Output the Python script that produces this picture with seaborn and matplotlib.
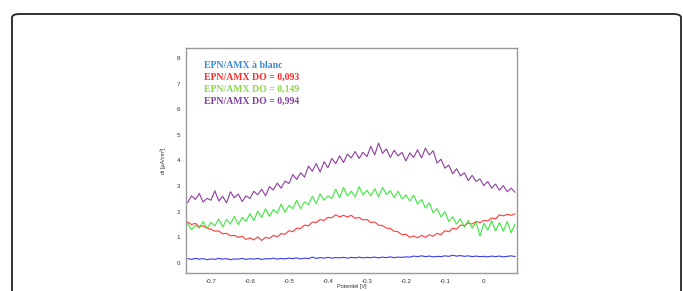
import numpy as np
import pandas as pd
import matplotlib
matplotlib.use("Agg")
import matplotlib.pyplot as plt
import seaborn as sns
from matplotlib.patches import FancyBboxPatch

# potential grid (V)
potential = [-0.76, -0.75, -0.74, -0.73, -0.72, -0.71, -0.70, -0.69, -0.68, -0.67,
             -0.66, -0.65, -0.64, -0.63, -0.62, -0.61, -0.60, -0.59, -0.58, -0.57,
             -0.56, -0.55, -0.54, -0.53, -0.52, -0.51, -0.50, -0.49, -0.48, -0.47,
             -0.46, -0.45, -0.44, -0.43, -0.42, -0.41, -0.40, -0.39, -0.38, -0.37,
             -0.36, -0.35, -0.34, -0.33, -0.32, -0.31, -0.30, -0.29, -0.28, -0.27,
             -0.26, -0.25, -0.24, -0.23, -0.22, -0.21, -0.20, -0.19, -0.18, -0.17,
             -0.16, -0.15, -0.14, -0.13, -0.12, -0.11, -0.10, -0.09, -0.08, -0.07,
             -0.06, -0.05, -0.04, -0.03, -0.02, -0.01, 0.00, 0.01, 0.02, 0.03,
             0.04, 0.05, 0.06, 0.07, 0.08]

blanc = [0.17, 0.14, 0.18, 0.15, 0.17, 0.13, 0.16, 0.14, 0.18, 0.15,
         0.17, 0.13, 0.16, 0.15, 0.18, 0.14, 0.17, 0.15, 0.18, 0.14,
         0.17, 0.16, 0.19, 0.15, 0.18, 0.16, 0.19, 0.17, 0.20, 0.16,
         0.19, 0.17, 0.23, 0.18, 0.21, 0.19, 0.22, 0.19, 0.21, 0.20,
         0.22, 0.19, 0.22, 0.20, 0.23, 0.20, 0.22, 0.21, 0.23, 0.20,
         0.23, 0.21, 0.24, 0.21, 0.23, 0.22, 0.24, 0.23, 0.27, 0.25,
         0.28, 0.25, 0.27, 0.24, 0.26, 0.25, 0.28, 0.26, 0.30, 0.27,
         0.29, 0.26, 0.28, 0.25, 0.27, 0.25, 0.26, 0.24, 0.27, 0.25,
         0.27, 0.24, 0.26, 0.28, 0.25]

do_093 = [1.60, 1.50, 1.55, 1.42, 1.45, 1.36, 1.32, 1.24, 1.25, 1.14,
          1.16, 1.06, 1.08, 1.00, 1.04, 0.92, 0.98, 0.90, 1.02, 0.88,
          1.00, 0.96, 1.08, 1.02, 1.15, 1.12, 1.26, 1.22, 1.36, 1.35,
          1.48, 1.45, 1.60, 1.58, 1.70, 1.66, 1.78, 1.76, 1.88, 1.80,
          1.86, 1.80, 1.86, 1.74, 1.78, 1.68, 1.70, 1.58, 1.60, 1.48,
          1.46, 1.36, 1.35, 1.24, 1.22, 1.10, 1.12, 1.00, 1.06, 0.98,
          1.08, 1.00, 1.10, 1.04, 1.16, 1.10, 1.26, 1.22, 1.36, 1.32,
          1.48, 1.46, 1.56, 1.52, 1.62, 1.58, 1.66, 1.64, 1.76, 1.72,
          1.88, 1.84, 1.90, 1.86, 1.92]

do_149 = [1.55, 1.30, 1.48, 1.36, 1.62, 1.35, 1.58, 1.45, 1.72, 1.40,
          1.70, 1.52, 1.82, 1.50, 1.78, 1.62, 1.92, 1.66, 2.02, 1.78,
          2.12, 1.82, 2.08, 1.95, 2.30, 1.98, 2.25, 2.12, 2.45, 2.12,
          2.38, 2.28, 2.60, 2.32, 2.70, 2.45, 2.62, 2.52, 2.88, 2.55,
          2.95, 2.62, 2.80, 2.58, 2.98, 2.66, 2.84, 2.62, 2.90, 2.58,
          2.95, 2.68, 2.82, 2.55, 2.80, 2.50, 2.66, 2.42, 2.65, 2.30,
          2.48, 2.15, 2.35, 1.96, 2.12, 1.80, 2.00, 1.62, 1.80, 1.52,
          1.72, 1.40, 1.66, 1.36, 1.60, 1.05, 1.55, 1.28, 1.65, 1.25,
          1.58, 1.24, 1.62, 1.18, 1.52]

do_994 = [2.35, 2.62, 2.48, 2.71, 2.38, 2.52, 2.45, 2.82, 2.42, 2.60,
          2.35, 2.78, 2.55, 2.69, 2.40, 2.62, 2.52, 2.80, 2.66, 2.88,
          2.62, 2.98, 2.85, 3.12, 2.92, 3.20, 3.10, 3.45, 3.26, 3.52,
          3.35, 3.78, 3.58, 3.88, 3.55, 3.95, 3.72, 4.08, 3.88, 4.18,
          3.92, 4.25, 4.10, 4.35, 4.08, 4.32, 4.15, 4.55, 4.22, 4.68,
          4.28, 4.45, 4.12, 4.40, 4.18, 4.32, 3.98, 4.30, 4.12, 4.42,
          4.10, 4.48, 4.22, 4.38, 3.90, 4.05, 3.70, 3.82, 3.48, 3.68,
          3.40, 3.52, 3.22, 3.42, 3.18, 3.28, 3.02, 3.18, 2.92, 3.08,
          2.84, 3.02, 2.78, 2.92, 2.76]

labels = ["EPN/AMX à blanc", "EPN/AMX DO = 0,093",
          "EPN/AMX DO = 0,149", "EPN/AMX DO = 0,994"]
line_colors = ["#3a3af0", "#ff3a3a", "#3ee83e", "#8e3c9e"]
text_colors = ["#3a8ad6", "#ff2a2a", "#8ed84a", "#8240a0"]

frames = []
for lab, vals in zip(labels, [blanc, do_093, do_149, do_994]):
    frames.append(pd.DataFrame({"Potentiel": potential, "di": vals, "serie": lab}))
df = pd.concat(frames, ignore_index=True)

sns.set_style("white")
plt.rcParams["font.family"] = ["Liberation Sans", "DejaVu Sans"]

fig = plt.figure(figsize=(6.83, 2.91), dpi=100)

# rounded frame around the figure
frame = FancyBboxPatch((12 / 683, -0.2), (669 / 683), (277 / 291) + 0.2,
                       boxstyle="round,pad=0,rounding_size=0.012",
                       transform=fig.transFigure, fill=False,
                       edgecolor="#222222", linewidth=1.3)
fig.patches.append(frame)

ax = fig.add_axes([186 / 683, 18 / 291, 331 / 683, 225 / 291])
sns.lineplot(data=df, x="Potentiel", y="di", hue="serie",
             palette=dict(zip(labels, line_colors)), sort=False,
             legend=False, linewidth=0.8, ax=ax)

ax.set_xlim(-0.764, 0.085)
ax.set_ylim(-0.39, 8.39)
ax.set_xticks([-0.7, -0.6, -0.5, -0.4, -0.3, -0.2, -0.1, 0])
ax.set_xticklabels(["-0.7", "-0.6", "-0.5", "-0.4", "-0.3", "-0.2", "-0.1", "0"])
ax.set_yticks(range(0, 9))
ax.tick_params(axis="both", length=0, labelsize=4.5, colors="#333333", pad=4)
ax.set_xlabel("Potentiel [V]", fontsize=4, color="#333333")
ax.xaxis.set_label_coords(0.5, -0.048)
ax.set_ylabel("di [µA/cm²]", fontsize=4, color="#333333", labelpad=8)
for sp in ax.spines.values():
    sp.set_color("#999999")
    sp.set_linewidth(1.0)

for i, (lab, col) in enumerate(zip(labels, text_colors)):
    ax.text(0.055, 0.922 - i * 0.053, lab, transform=ax.transAxes,
            color=col, fontsize=7, fontweight="bold",
            family=["Liberation Serif", "DejaVu Serif"], va="center")

fig.savefig("out.png", dpi=100)
